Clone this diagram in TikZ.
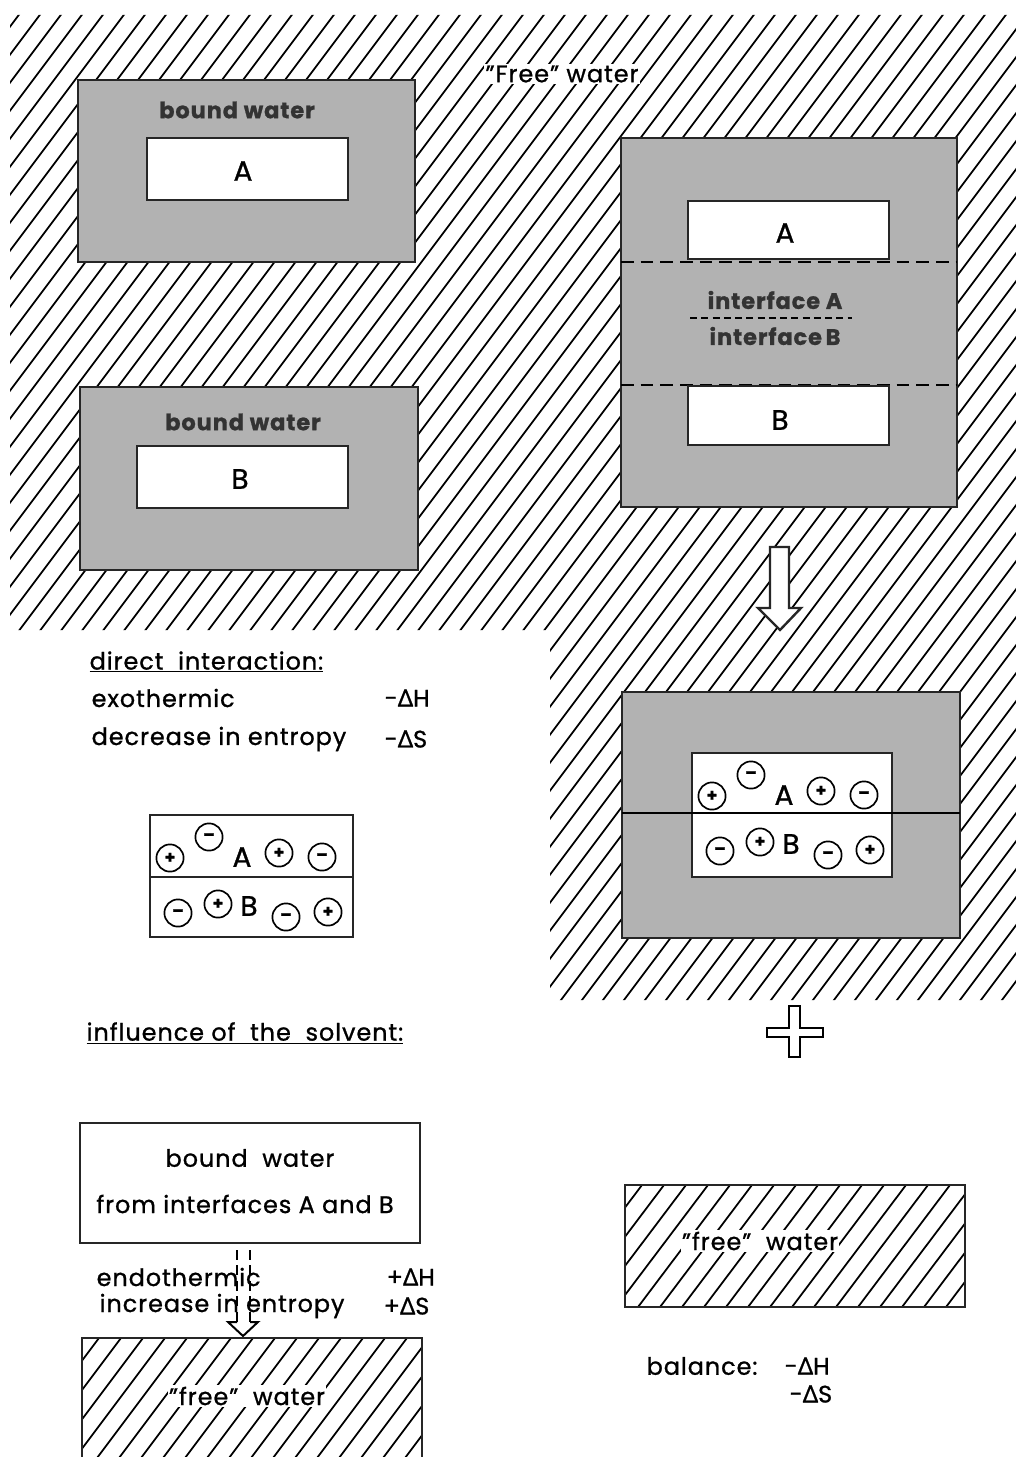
\documentclass[tikz,border=0pt]{standalone}
\usepackage{fontspec}
\setmainfont{Poppins}[LetterSpace=4, FakeBold=1]
\newfontfamily\grk{Noto Sans}[FakeBold=1]
\newcommand{\dlt}{{\grk Δ}}
\begin{document}
\begin{tikzpicture}[x=0.025cm,y=-0.025cm,
  hatchline/.style={line width=1.25pt},
  stip/.style={fill=black!30, draw=black!85, line width=2pt},
  wbox/.style={fill=white, draw=black!85, line width=2pt},
  plain/.style={draw=black!85, line width=1.7pt},
  txt/.style={font=\fontsize{17}{20}\selectfont, inner sep=1pt},
  bw/.style={font=\fontsize{16}{19}\selectfont\bfseries, text=black!80, inner sep=0pt},
  big/.style={font=\fontsize{20}{23}\selectfont, inner sep=0pt},
  chg/.style={circle, draw, line width=1.2pt, minimum size=0.68cm, inner sep=0pt, font=\fontsize{12}{12}\selectfont\bfseries},
  dsh/.style={line width=1.8pt, dash pattern=on 9pt off 5pt}
]
\useasboundingbox (0,0) rectangle (1016,1457);
\fill[white] (0,0) rectangle (1016,1457);

% free water hatch region
\begin{scope}
\clip (10,15) -- (1016,15) -- (1016,1000) -- (550,1000) -- (550,630) -- (10,630) -- cycle;
\foreach \i in {-50,...,50} \draw[hatchline] (\i*21,1020) -- ++(765,-1020);
\end{scope}
\node[txt, fill=white] (free) at (562,74) {"Free" water};

% bound water A
\draw[stip] (78,80) rectangle (415,262);
\draw[wbox] (147,138) rectangle (348,200);
\node[bw] (bwA) at (237,110) {bound water};
\node[big] (A1) at (243,171) {A};

% bound water B
\draw[stip] (80,387) rectangle (418,570);
\draw[wbox] (137,446) rectangle (348,508);
\node[bw] (bwB) at (243,422) {bound water};
\node[big] (B1) at (240,479) {B};

% right complex
\draw[stip] (621,138) rectangle (957,507);
\draw[dsh] (621,262) -- (957,262);
\draw[dsh] (621,385) -- (957,385);
\draw[wbox] (688,201) rectangle (889,259);
\draw[wbox] (688,386) rectangle (889,445);
\node[big] (A2) at (785,233) {A};
\node[big] (B2) at (780,420) {B};
\node[bw] (ifA) at (775,300) {interface A};
\draw[line width=1.4pt, dash pattern=on 5pt off 3pt] (690,318) -- (852,318);
\node[bw] (ifB) at (775,336) {interface\,B};

% block arrow
\draw[plain, fill=white] (770,547) -- (789,547) -- (789,608) -- (801,608) -- (780,630) -- (758,608) -- (770,608) -- cycle;

% lower right complex
\draw[stip] (622,692) rectangle (960,938);
\draw[wbox] (692,753) rectangle (892,877);
\draw[line width=1.5pt] (622,813) -- (960,813);
\begin{scope}[shift={(542,-62)}]
\node[chg] (Ra1) at (170,858) {+};
\node[chg] (Ra2) at (209,837) {–};
\node[big] (RA) at (242,857) {A};
\node[chg] (Ra3) at (279,853) {+};
\node[chg] (Ra4) at (322,857) {–};
\node[chg] (Rb1) at (178,913) {–};
\node[chg] (Rb2) at (218,904) {+};
\node[big] (RB) at (249,906) {B};
\node[chg] (Rb3) at (286,917) {–};
\node[chg] (Rb4) at (328,912) {+};
\end{scope}

% plus sign
\draw[line width=1.4pt, fill=white] (789,1006) -- (800,1006) -- (800,1028) -- (823,1028) -- (823,1037) -- (800,1037) -- (800,1057) -- (789,1057) -- (789,1037) -- (767,1037) -- (767,1028) -- (789,1028) -- cycle;

% direct interaction
\node[txt, anchor=west] (di) at (88,662) {\underline{direct\ \ interaction:}};
\node[txt, anchor=west] (exo) at (90,698) {exothermic};
\node[txt, anchor=west] (exoH) at (383,698) {-\dlt H};
\node[txt, anchor=west] (dec) at (90,739) {decrease in entropy};
\node[txt, anchor=west] (decS) at (383,739) {-\dlt S};

\draw[plain] (150,815) rectangle (353,937);
\draw[plain] (150,877) -- (353,877);
\node[chg] (La1) at (170,858) {+};
\node[chg] (La2) at (209,837) {–};
\node[big] (LA) at (242,857) {A};
\node[chg] (La3) at (279,853) {+};
\node[chg] (La4) at (322,857) {–};
\node[chg] (Lb1) at (178,913) {–};
\node[chg] (Lb2) at (218,904) {+};
\node[big] (LB) at (249,906) {B};
\node[chg] (Lb3) at (286,917) {–};
\node[chg] (Lb4) at (328,912) {+};

% influence of solvent
\node[txt, anchor=west] (inf) at (85,1033) {\underline{influence of\ \ the\ \ solvent:}};
\draw[plain] (80,1123) rectangle (420,1243);
\node[txt] (bw3) at (250,1158) {bound\ \ water};
\node[txt] (fi) at (245,1204) {from interfaces A and B};

\draw[line width=1.4pt, dash pattern=on 7pt off 4pt] (237,1250) -- (237,1322);
\draw[line width=1.4pt, dash pattern=on 7pt off 4pt] (250,1250) -- (250,1322);
\draw[line width=1.4pt] (237,1322) -- (228,1322) -- (243,1336) -- (258,1322) -- (250,1322);

\node[txt, anchor=west] (endo) at (95,1277) {endothermic};
\node[txt, anchor=west] (endoH) at (385,1277) {+\dlt H};
\node[txt, anchor=west] (inc) at (98,1306) {increase in entropy};
\node[txt, anchor=west] (incS) at (382,1306) {+\dlt S};

% bottom hatched box
\begin{scope}
\clip (82,1338) rectangle (422,1470);
\foreach \i in {-10,...,25} \draw[hatchline] (\i*22,1470) -- ++(99,-132);
\end{scope}
\draw[plain] (82,1457) -- (82,1338) -- (422,1338) -- (422,1457);
\node[txt, fill=white] (fw1) at (247,1396) {"free"\ \ water};

% right hatched box
\begin{scope}
\clip (625,1185) rectangle (965,1307);
\foreach \i in {20,...,46} \draw[hatchline] (\i*22,1307) -- ++(92,-122);
\end{scope}
\draw[plain] (625,1185) rectangle (965,1307);
\node[txt, fill=white] (fw2) at (760,1241) {"free"\ \ water};

% balance
\node[txt, anchor=west] (bal) at (645,1366) {balance:};
\node[txt, anchor=west] (balH) at (783,1366) {-\dlt H};
\node[txt, anchor=west] (balS) at (788,1394) {-\dlt S};
\end{tikzpicture}
\end{document}
